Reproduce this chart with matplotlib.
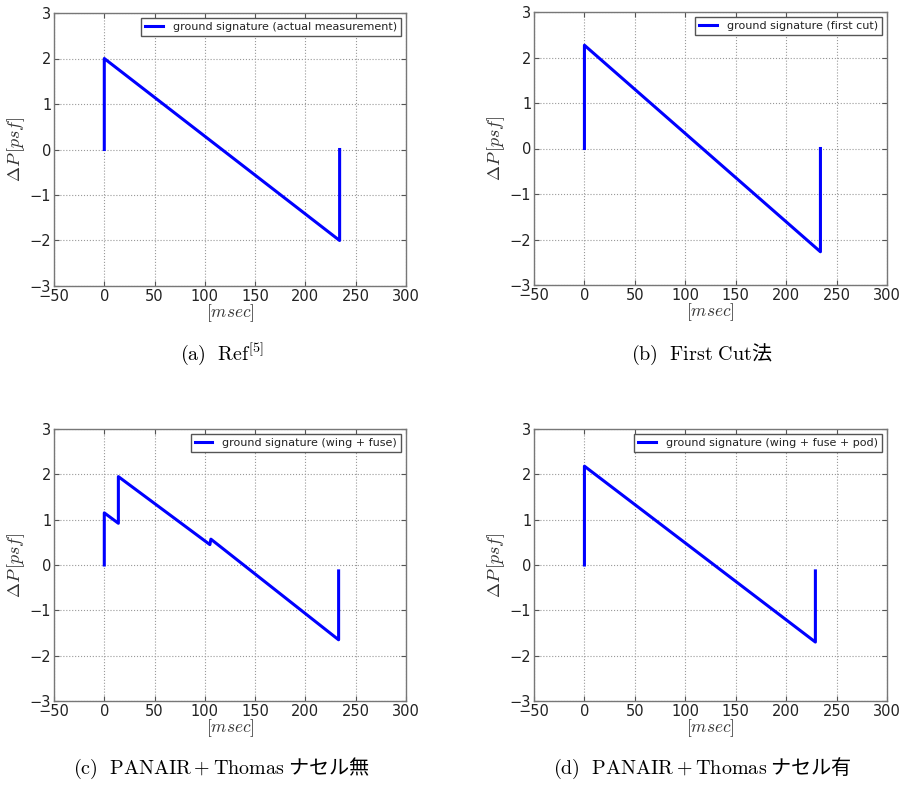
import numpy as np
from matplotlib import pyplot as plt

plt.rcParams['mathtext.fontset'] = 'cm'

# ground signatures: time [msec], pressure [psf]
t_ref = [0, 0, 234, 234]
p_ref = [0, 2.0, -2.0, 0]
t_cut = [0, 0, 234, 234]
p_cut = [0, 2.27, -2.27, 0]
t_wf = [0, 0, 14, 14, 105, 106, 233, 233]
p_wf = [0, 1.15, 0.92, 1.95, 0.45, 0.57, -1.65, -0.13]
t_wfp = [0, 0, 229, 229]
p_wfp = [0, 2.18, -1.7, -0.13]

labels = ['ground signature (actual measurement)',
          'ground signature (first cut)',
          'ground signature (wing + fuse)',
          'ground signature (wing + fuse + pod)']
captions = [r'$\mathrm{(a)\ \ Ref}^{[5]}$',
            r'$\mathrm{(b)\ \ First\ Cut}$法',
            r'$\mathrm{(c)\ \ PANAIR+Thomas}$ ナセル無',
            r'$\mathrm{(d)\ \ PANAIR+Thomas}$ ナセル有']

fig = plt.figure(figsize=(9.03, 7.87), dpi=100)
W, H = 903.0, 787.0
boxes = [(54, 13, 406, 286), (534, 12, 887, 285),
         (54, 429, 406, 701), (534, 429, 887, 701)]
series = [(t_ref, p_ref), (t_cut, p_cut), (t_wf, p_wf), (t_wfp, p_wfp)]
cap_pos = [(222, 354), (702, 354), (222, 768), (702, 768)]

for (x0, y0, x1, y1), (t, p), lab, cap, (cx, cy) in zip(boxes, series, labels, captions, cap_pos):
  ax = fig.add_axes([x0 / W, 1 - y1 / H, (x1 - x0) / W, (y1 - y0) / H])
  ax.plot(t, p, '-', color='#0000ff', lw=2.2, label=lab)
  ax.set_xlim(-50, 300)
  ax.set_ylim(-3, 3)
  ax.set_xticks(np.arange(-50, 301, 50))
  ax.set_yticks(np.arange(-3, 4, 1))
  ax.grid(True, linestyle=':', color='#999999', lw=0.8)
  ax.tick_params(direction='in', top=True, right=True, labelsize=10.5,
                 labelcolor='#222222', color='#555555', pad=2)
  for s in ax.spines.values():
    s.set_color('#777777')
    s.set_linewidth(1.0)
  ax.set_xlabel(r'$[msec]$', fontsize=12.5, labelpad=-1, color='#333333')
  ax.set_ylabel(r'$\Delta P\,[psf]$', fontsize=13, labelpad=2, color='#333333')
  leg = ax.legend(loc='upper right', fontsize=8, fancybox=False,
                  handlelength=1.6, handletextpad=0.9, borderpad=0.35,
                  borderaxespad=0.45, framealpha=1)
  leg.get_frame().set_edgecolor('#555555')
  for txt in leg.get_texts():
    txt.set_color('#222222')
  fig.text(cx / W, 1 - cy / H, cap, ha='center', va='center', fontsize=14.5,
           family=['Noto Sans CJK JP', 'DejaVu Sans'])

plt.savefig('out.png', dpi=100)
